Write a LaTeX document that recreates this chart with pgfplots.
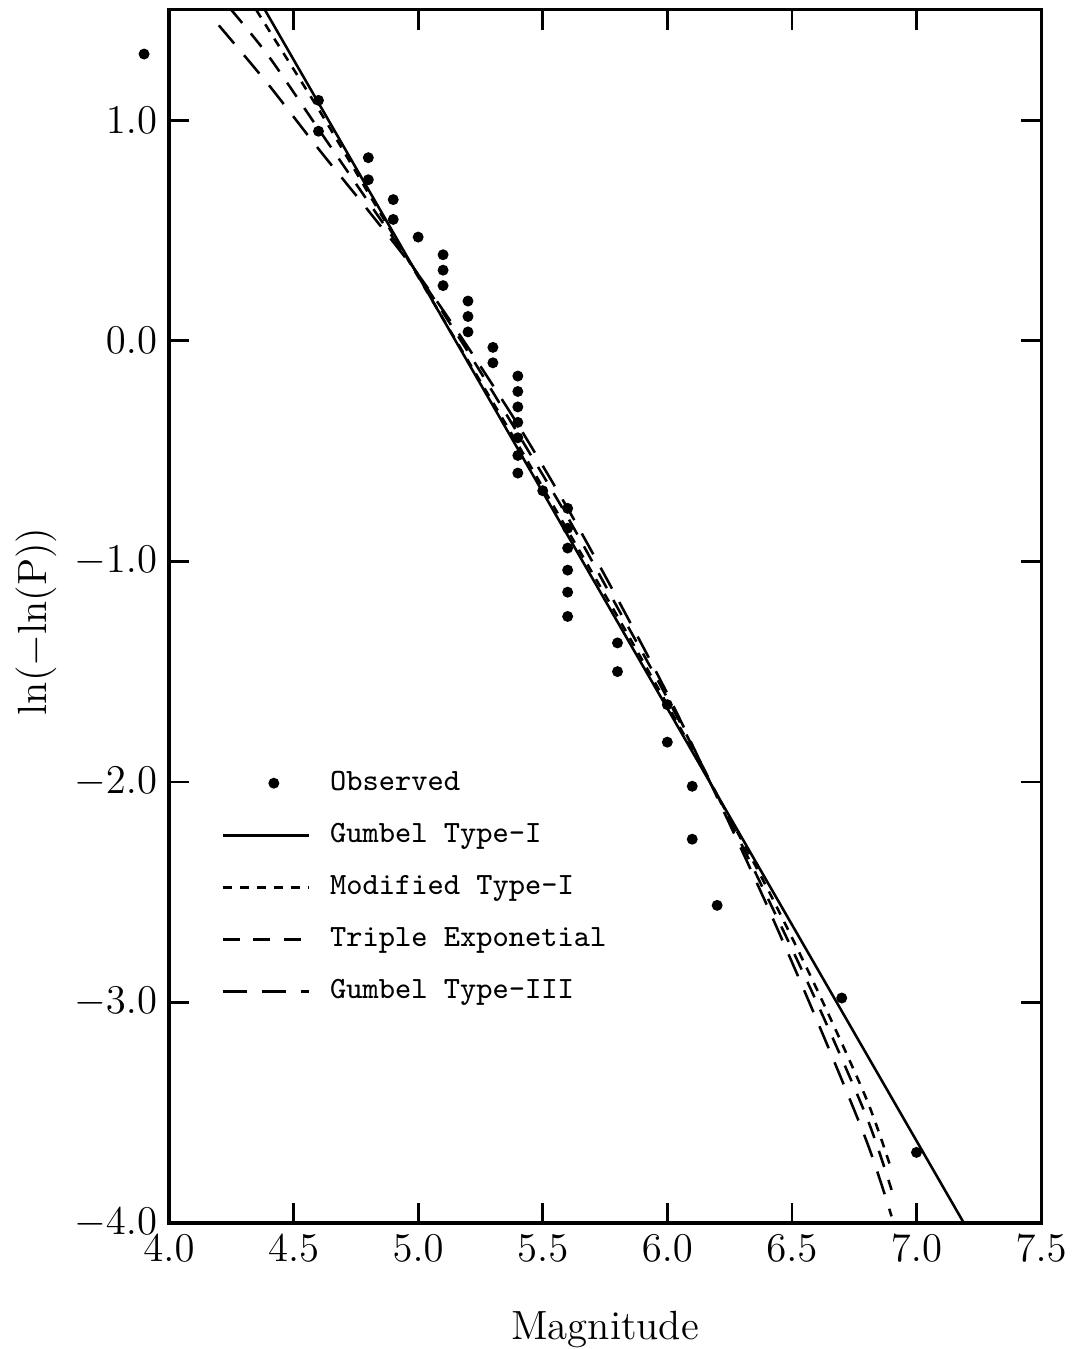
\documentclass[border=0pt]{standalone}
\usepackage{pgfplots}
\pgfplotsset{compat=1.18}
\pgfplotsset{
    lineleg/.style={legend image code/.code={\draw[##1] (0pt,0pt) -- (25.3pt,0pt);}},
    markleg/.style={legend image code/.code={\draw[##1, mark repeat=2, mark phase=2]
        plot coordinates {(0pt,0pt) (15pt,0pt) (25.3pt,0pt)};}},
}

\begin{document}
\begin{tikzpicture}
\begin{axis}[
    scale only axis,
    width=256.5pt, height=356.8pt,
    xmin=4, xmax=7.5, ymin=-4, ymax=1.5,
    xtick={4,4.5,5,5.5,6,6.5,7,7.5},
    ytick={-4,-3,-2,-1,0,1},
    tick align=inside, tick pos=both,
    major tick length=5.9pt,
    axis line style={line width=0.9pt},
    every tick/.style={black, line width=0.8pt},
    tick label style={font=\fontsize{11.5}{13}\selectfont},
    xticklabel style={/pgf/number format/.cd, fixed, fixed zerofill, precision=1},
    yticklabel style={/pgf/number format/.cd, fixed, fixed zerofill, precision=1},
    xlabel={Magnitude},
    ylabel={ln($-$ln(P))},
    label style={font=\fontsize{12}{14}\selectfont},
    xlabel style={at={(axis description cs:0.5,-0.088)}, anchor=center},
    ylabel style={at={(axis description cs:-0.152,0.496)}, anchor=center},
    clip=false,
    legend cell align=left,
    legend style={draw=none, fill=none, inner sep=0pt,
        at={(axis description cs:0.0595,0.375)}, anchor=north west,
        font=\ttfamily\fontsize{9.1}{11}\selectfont,
        row sep=6.8pt,
        nodes={inner sep=0pt, text height=6.5pt, text depth=2pt},
        /tikz/every odd column/.style={column sep=5.9pt}},
    lineleg,
]

\addplot[only marks, mark=*, mark size=1.4pt, black, markleg]
coordinates {
    (3.9,1.30) (4.6,1.09) (4.6,0.95) (4.8,0.83) (4.8,0.73)
    (4.9,0.64) (4.9,0.55) (5.0,0.47) (5.1,0.39) (5.1,0.32)
    (5.1,0.25) (5.2,0.18) (5.2,0.11) (5.2,0.04) (5.3,-0.03)
    (5.3,-0.10) (5.4,-0.16) (5.4,-0.23) (5.4,-0.30) (5.4,-0.37)
    (5.4,-0.44) (5.4,-0.52) (5.4,-0.60) (5.5,-0.68) (5.6,-0.76)
    (5.6,-0.85) (5.6,-0.94) (5.6,-1.04) (5.6,-1.14) (5.6,-1.25)
    (5.8,-1.37) (5.8,-1.50) (6.0,-1.65) (6.0,-1.82) (6.1,-2.02)
    (6.1,-2.26) (6.2,-2.56) (6.7,-2.98) (7.0,-3.68)
};
\addlegendentry{Observed}

\addplot[black, line width=0.75pt] coordinates {
    (4.385,1.50) (7.19,-4.00)
};
\addlegendentry{Gumbel Type-I}

\addplot[black, line width=0.75pt, dash pattern=on 2.6pt off 2.4pt, smooth] coordinates {
    (4.35,1.50) (4.4,1.41) (4.6,1.05) (4.8,0.67) (5.0,0.29)
    (5.2,-0.09) (5.4,-0.47) (5.6,-0.86) (5.8,-1.25) (6.0,-1.65)
    (6.2,-2.06) (6.4,-2.48) (6.6,-2.94) (6.8,-3.44) (6.9,-3.76)
};
\addlegendentry{Modified Type-I}

\addplot[black, line width=0.75pt, dash pattern=on 5pt off 4pt, smooth] coordinates {
    (4.25,1.50) (4.4,1.29) (4.6,0.96) (4.8,0.63) (5.0,0.30)
    (5.2,-0.05) (5.4,-0.42) (5.6,-0.80) (5.8,-1.21) (6.0,-1.62)
    (6.2,-2.06) (6.4,-2.52) (6.6,-3.00) (6.8,-3.52) (6.9,-3.85)
};
\addlegendentry{Triple Exponetial}

\addplot[black, line width=0.75pt, dash pattern=on 7pt off 4.5pt, smooth] coordinates {
    (4.2,1.43) (4.4,1.16) (4.6,0.87) (4.8,0.59) (5.0,0.30)
    (5.2,-0.03) (5.4,-0.38) (5.6,-0.76) (5.8,-1.17) (6.0,-1.60)
    (6.2,-2.07) (6.4,-2.56) (6.6,-3.08) (6.8,-3.63) (6.9,-3.97)
};
\addlegendentry{Gumbel Type-III}

\coordinate (bl) at (axis description cs:-0.1938,-0.1039);
\coordinate (tr) at (axis description cs:1.0344,1.0082);
\end{axis}
\pgfresetboundingbox
\path[use as bounding box] (bl) rectangle (tr);
\end{tikzpicture}
\end{document}
